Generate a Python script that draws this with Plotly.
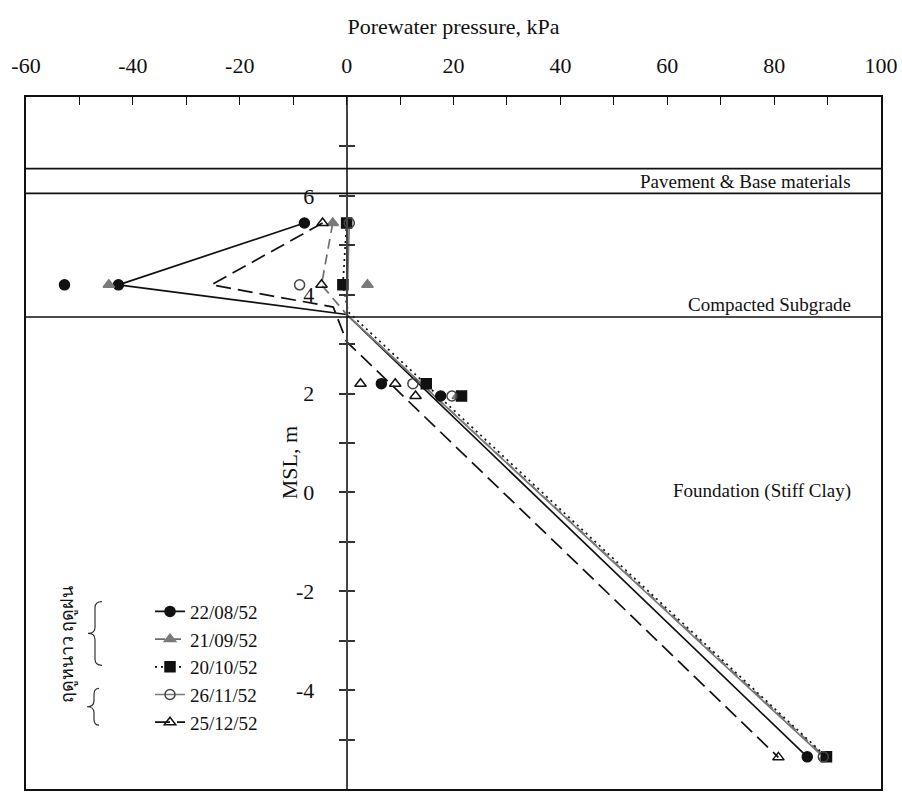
import plotly.graph_objects as go

# ---------------- data ----------------
x_range = [-60, 100]
y_range = [-6, 8]
x_tick_vals = [-60, -40, -20, 0, 20, 40, 60, 80, 100]
x_tick_text = [str(v) for v in x_tick_vals]
y_tick_vals = [-5, -4, -3, -2, -1, 0, 1, 2, 3, 4, 5, 6, 7]
y_tick_text = ["", "-4", "", "-2", "", "0", "", "2", "", "4", "", "6", ""]

layer_bounds = [6.55, 6.05, 3.55]
layer_names = ["Pavement & Base materials", "Compacted Subgrade", "Foundation (Stiff Clay)"]
layer_label_y = [6.30, 3.81, 0.02]

dates = ["22/08/52", "21/09/52", "20/10/52", "26/11/52", "25/12/52"]
season_names = ["ฤดูฝน", "ฤดูหนาว"]

# measured readings (kPa, elevation m MSL)
pts_x_2208 = [-7.9, -42.7, -52.8, 6.5, 17.6, 86.2]
pts_y_2208 = [5.45, 4.2, 4.2, 2.2, 1.95, -5.35]
pts_x_2109 = [-2.6, -44.5, 3.9, 20.8, 89.5]
pts_y_2109 = [5.45, 4.2, 4.2, 1.95, -5.35]
pts_x_2010 = [0.0, -0.7, 14.9, 21.5, 89.8]
pts_y_2010 = [5.45, 4.2, 2.2, 1.95, -5.35]
pts_x_2611 = [0.5, -8.8, 12.4, 19.7, 89.2]
pts_y_2611 = [5.45, 4.2, 2.2, 1.95, -5.35]
pts_x_2512 = [-4.5, -4.7, 2.6, 9.1, 12.9, 80.8]
pts_y_2512 = [5.45, 4.2, 2.2, 2.2, 1.95, -5.36]

# pressure profiles
ln_x_2208 = [-7.9, -42.7, 0.0, 86.2]
ln_y_2208 = [5.45, 4.2, 3.6, -5.35]
ln_x_2109 = [-2.6, -4.7, 0.0, 89.5]
ln_y_2109 = [5.45, 4.2, 3.6, -5.35]
ln_x_2010 = [0.0, -0.7, 0.3, 89.8]
ln_y_2010 = [5.45, 4.2, 3.65, -5.35]
ln_x_2611 = [0.5, 0.0, 89.2]
ln_y_2611 = [5.45, 3.6, -5.35]
ln_x_2512 = [-4.5, -25.3, -2.5, 0.0, 80.8]
ln_y_2512 = [5.45, 4.2, 3.75, 3.05, -5.36]

# ---------------- styles ----------------
FONT = "Liberation Serif"
styles = [
    dict(color="#111111", dash="solid", symbol="circle", mcolor="#111111", mline="#111111"),
    dict(color="#6f6f6f", dash="10px,6px", symbol="triangle-up", mcolor="#7a7a7a", mline="#7a7a7a"),
    dict(color="#111111", dash="2px,4px", symbol="square", mcolor="#111111", mline="#111111"),
    dict(color="#7a7a7a", dash="solid", symbol="circle-open", mcolor="#444444", mline="#444444"),
    dict(color="#111111", dash="15px,7px", symbol="triangle-up-open", mcolor="#111111", mline="#111111"),
]
lines = [(ln_x_2208, ln_y_2208), (ln_x_2109, ln_y_2109), (ln_x_2010, ln_y_2010),
         (ln_x_2611, ln_y_2611), (ln_x_2512, ln_y_2512)]
points = [(pts_x_2208, pts_y_2208), (pts_x_2109, pts_y_2109), (pts_x_2010, pts_y_2010),
          (pts_x_2611, pts_y_2611), (pts_x_2512, pts_y_2512)]

fig = go.Figure()

for (lx, ly), st in zip(lines, styles):
    fig.add_trace(go.Scatter(x=lx, y=ly, mode="lines", showlegend=False, hoverinfo="skip",
                             line=dict(color=st["color"], width=1.7, dash=st["dash"])))
for (px, py), st, d in zip(points, styles, dates):
    fig.add_trace(go.Scatter(x=px, y=py, mode="markers", showlegend=False, name=d,
                             marker=dict(symbol=st["symbol"], size=10, color=st["mcolor"],
                                         line=dict(color=st["mline"], width=1.5))))
# legend entries
for st, d in zip(styles, dates):
    fig.add_trace(go.Scatter(x=[None], y=[None], mode="lines+markers", name=d,
                             line=dict(color=st["color"], width=1.7, dash=st["dash"]),
                             marker=dict(symbol=st["symbol"], size=10, color=st["mcolor"],
                                         line=dict(color=st["mline"], width=1.5))))
# empty traces so the overlay axes (crossing ticks, frame) get drawn
fig.add_trace(go.Scatter(x=[None], y=[None], yaxis="y2", showlegend=False, hoverinfo="skip"))
fig.add_trace(go.Scatter(x=[None], y=[None], yaxis="y3", showlegend=False, hoverinfo="skip"))

# layer boundaries
for yb in layer_bounds:
    fig.add_shape(type="line", xref="paper", yref="y", x0=0, x1=1, y0=yb, y1=yb,
                  line=dict(color="#111111", width=1.6))
for name, yl in zip(layer_names, layer_label_y):
    fig.add_annotation(x=0.967, xref="paper", y=yl, yref="y", text=name, showarrow=False,
                       xanchor="right", yanchor="middle", font=dict(family=FONT, size=19, color="#111"))

# geometry helpers for legend decorations (pixel -> paper)
W, H = 902, 792
ML, MR, MT, MB = 26, 21, 97, 1
PW, PH = W - ML - MR, H - MT - MB
def px2x(p):
    return (p - ML) / PW
def py2y(p):
    return (H - MB - p) / PH

def brace(xr, xm, xl, ytop, ybot):
    ymid = (ytop + ybot) / 2
    d = 6
    pts = [
        f"M {px2x(xr)},{py2y(ytop)}",
        f"Q {px2x(xm)},{py2y(ytop)} {px2x(xm)},{py2y(ytop + d)}",
        f"L {px2x(xm)},{py2y(ymid - d)}",
        f"Q {px2x(xm)},{py2y(ymid)} {px2x(xl)},{py2y(ymid)}",
        f"Q {px2x(xm)},{py2y(ymid)} {px2x(xm)},{py2y(ymid + d)}",
        f"L {px2x(xm)},{py2y(ybot - d)}",
        f"Q {px2x(xm)},{py2y(ybot)} {px2x(xr)},{py2y(ybot)}",
    ]
    return " ".join(pts)

fig.add_shape(type="path", xref="paper", yref="paper", path=brace(102, 95, 88, 603, 667),
              line=dict(color="#333", width=1.2))
fig.add_shape(type="path", xref="paper", yref="paper", path=brace(99, 94, 87, 690, 727),
              line=dict(color="#333", width=1.2))
fig.add_annotation(x=px2x(55), y=py2y(636), xref="paper", yref="paper", text=season_names[0],
                   textangle=-90, showarrow=False, font=dict(family=FONT, size=18, color="#111"))
fig.add_annotation(x=px2x(55), y=py2y(707), xref="paper", yref="paper", text=season_names[1],
                   textangle=-90, showarrow=False, font=dict(family=FONT, size=18, color="#111"))
# y-axis title placed beside the axis at x = 0
fig.add_annotation(x=px2x(275), y=0.6, xref="paper", yref="y", text="MSL, m",
                   textangle=-90, showarrow=False, font=dict(family=FONT, size=22, color="#111"))

fig.update_layout(
    width=W, height=H,
    margin=dict(l=ML, r=MR, t=MT, b=MB),
    plot_bgcolor="white", paper_bgcolor="white",
    font=dict(family=FONT, size=22, color="#111"),
    showlegend=True,
    legend=dict(x=px2x(150), y=py2y(594), xanchor="left", yanchor="top",
                bgcolor="rgba(0,0,0,0)", font=dict(family=FONT, size=19, color="#111"),
                tracegroupgap=0),
    xaxis=dict(range=x_range, side="top", tickvals=x_tick_vals, ticktext=x_tick_text,
               showline=True, mirror=True,
               linecolor="#111", linewidth=1.6, ticks="inside", ticklen=8, tickcolor="#111",
               minor=dict(dtick=10, ticks="inside", ticklen=8, tickcolor="#111"),
               showgrid=False, zeroline=False, ticklabelstandoff=13,
               title=dict(text="Porewater pressure, kPa", standoff=13,
                          font=dict(family=FONT, size=22))),
    yaxis=dict(range=y_range, anchor="free", position=0.375, side="left",
               tickvals=y_tick_vals, ticktext=y_tick_text, ticks="outside", ticklen=7,
               tickcolor="#333", tickwidth=1.6, showline=True, linecolor="#444", linewidth=2,
               showgrid=False, zeroline=False, ticklabelstandoff=20),
    yaxis2=dict(range=y_range, overlaying="y", anchor="free", position=0.375, side="left",
                tickvals=y_tick_vals, ticks="inside", ticklen=7, tickcolor="#333", tickwidth=1.6,
                showticklabels=False, showline=False, showgrid=False, zeroline=False),
    yaxis3=dict(range=y_range, overlaying="y", anchor="x", side="left", showline=True,
                mirror=True, linecolor="#111", linewidth=1.6, ticks="", showticklabels=False,
                showgrid=False, zeroline=False),
)

fig.write_html("out.html", config={"displayModeBar": False},
               post_script="document.body.style.margin='0';")
